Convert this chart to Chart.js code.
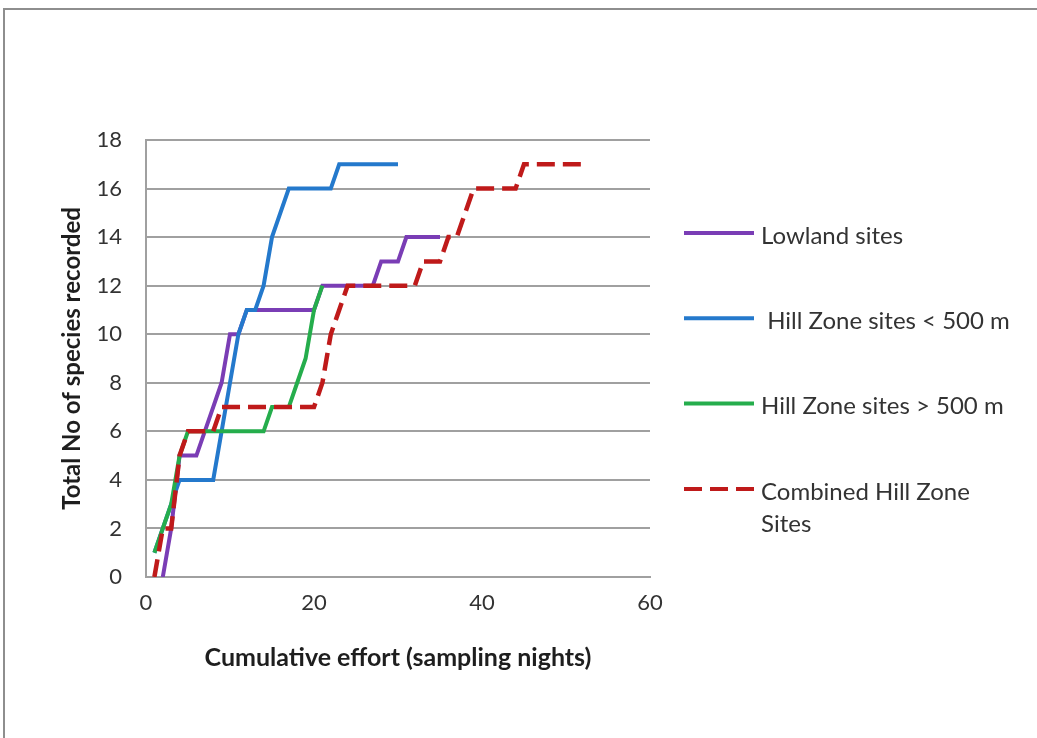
<!DOCTYPE html>
<html>
<head>
<meta charset="utf-8">
<title>Species accumulation</title>
<script src="https://cdn.jsdelivr.net/npm/chart.js@4.4.1/dist/chart.umd.min.js"></script>
<style>
  html, body { margin: 0; padding: 0; background: #fff; }
  #wrap { position: relative; width: 1037px; height: 738px; }
  #frame {
    position: absolute; left: 3px; top: 8px; right: 0; bottom: 0;
    border-top: 2px solid #8e8e8e; border-left: 2px solid #8e8e8e;
    pointer-events: none;
  }
</style>
</head>
<body>
<div id="wrap">
  <canvas id="curves" width="1037" height="738"></canvas>
  <div id="frame"></div>
</div>
<script>
// cumulative sampling nights vs species count, one pair of arrays per site group
const lowlandX = [2, 3, 4, 6, 7, 8, 9, 10, 11, 12, 20, 21, 27, 28, 30, 31, 35];
const lowlandY = [0, 2, 5, 5, 6, 7, 8, 10, 10, 11, 11, 12, 12, 13, 13, 14, 14];

const hillLowX = [1, 2, 3, 4, 8, 9, 10, 11, 12, 13, 14, 15, 17, 22, 23, 30];
const hillLowY = [1, 2, 3, 4, 4, 6, 8, 10, 11, 11, 12, 14, 16, 16, 17, 17];

const hillHighX = [1, 2, 3, 4, 5, 14, 15, 17, 18, 19, 20, 21];
const hillHighY = [1, 2, 3, 5, 6, 6, 7, 7, 8, 9, 11, 12];

const combinedX = [1, 2, 3, 4, 5, 8, 9, 20, 21, 22, 23, 24, 32, 33, 35, 36, 37, 38, 39, 44, 45, 52];
const combinedY = [0, 2, 2, 5, 6, 6, 7, 7, 8, 10, 11, 12, 12, 13, 13, 14, 14, 15, 16, 16, 17, 17];

const seriesNames = ['Lowland sites', ' Hill Zone sites < 500 m', 'Hill Zone sites > 500 m', 'Combined Hill Zone\nSites'];
const xTicks = [0, 20, 40, 60];
const yTicks = [0, 2, 4, 6, 8, 10, 12, 14, 16, 18];

function pts(xs, ys) {
    return xs.map((x, i) => ({ x: x, y: ys[i] }));
}

// legend drawn to the right of the plot, with the last label wrapped onto two lines
const sideLegend = {
    id: 'sideLegend',
    afterDraw(chart) {
        const ctx = chart.ctx;
        ctx.save();
        ctx.font = '24px Lato';
        ctx.textBaseline = 'middle';
        chart.data.datasets.forEach((ds, i) => {
            const y = 233 + i * 85.3;
            ctx.strokeStyle = ds.borderColor;
            ctx.lineWidth = 4;
            ctx.setLineDash(ds.borderDash || []);
            ctx.beginPath();
            ctx.moveTo(684, y);
            ctx.lineTo(754, y);
            ctx.stroke();
            ctx.setLineDash([]);
            ctx.fillStyle = '#333';
            ds.label.split('\n').forEach((line, j) => {
                ctx.fillText(line, 761, y + 3 + j * 32);
            });
        });
        ctx.restore();
    }
};

Chart.defaults.font.family = 'Lato';

new Chart(document.getElementById('curves'), {
    type: 'line',
    data: {
        datasets: [{
            label: seriesNames[0],
            data: pts(lowlandX, lowlandY),
            borderColor: '#7a3db5',
            order: 3
        }, {
            label: seriesNames[1],
            data: pts(hillLowX, hillLowY),
            borderColor: '#2479cc',
            order: 2
        }, {
            label: seriesNames[2],
            data: pts(hillHighX, hillHighY),
            borderColor: '#25ad4c',
            order: 1
        }, {
            label: seriesNames[3],
            data: pts(combinedX, combinedY),
            borderColor: '#bf1a1a',
            borderDash: [18, 8],
            borderWidth: 4.5,
            order: 0
        }]
    },
    options: {
        responsive: false,
        animation: false,
        elements: {
            line: { tension: 0, borderWidth: 4, borderCapStyle: 'butt' },
            point: { radius: 0 }
        },
        layout: {
            padding: { left: 0, top: 140, right: 387, bottom: 61 }
        },
        plugins: {
            legend: { display: false },
            tooltip: { enabled: false }
        },
        scales: {
            x: {
                type: 'linear',
                min: 0,
                max: 60,
                afterBuildTicks(s) { s.ticks = xTicks.map(v => ({ value: v })); },
                afterFit(s) { s.height = 100; },
                ticks: { color: '#333', font: { size: 22 }, padding: 13 },
                grid: { display: false, drawTicks: false },
                border: { display: true, color: '#a0a0a0', width: 2 },
                title: {
                    display: true,
                    text: 'Cumulative effort (sampling nights)',
                    color: '#1e1e1e',
                    font: { size: 25, weight: 'bold' },
                    padding: { top: 0, bottom: 4 }
                }
            },
            y: {
                type: 'linear',
                min: 0,
                max: 18,
                afterBuildTicks(s) { s.ticks = yTicks.map(v => ({ value: v })); },
                afterFit(s) { s.width = 146; },
                ticks: { color: '#333', font: { size: 22 }, padding: 24 },
                grid: { color: '#a0a0a0', lineWidth: 2, drawTicks: false },
                border: { display: true, color: '#a0a0a0', width: 2 },
                title: {
                    display: true,
                    text: 'Total No of species recorded',
                    color: '#1e1e1e',
                    font: { size: 24, weight: 'bold' },
                    padding: { top: 58, bottom: 0 }
                }
            }
        }
    },
    plugins: [sideLegend]
});
</script>
</body>
</html>
